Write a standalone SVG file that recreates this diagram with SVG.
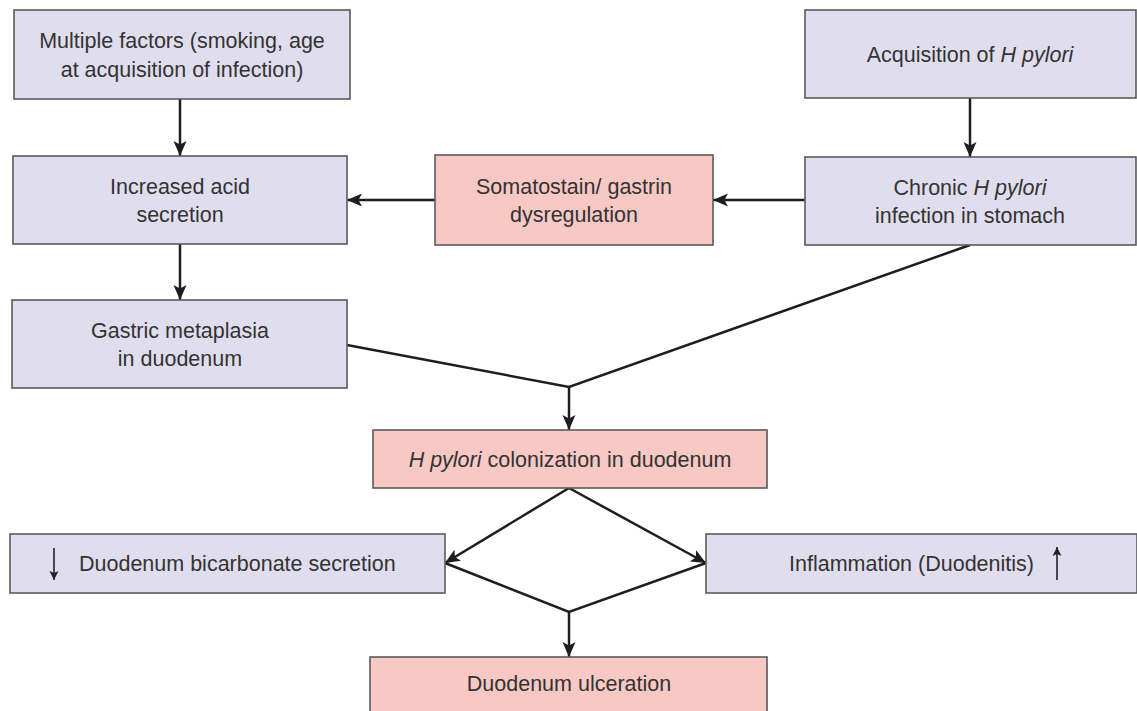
<svg xmlns="http://www.w3.org/2000/svg" width="1137" height="711" viewBox="0 0 1137 711">
<defs>
<style>
.b{fill:#e0deee;stroke:#5a5a5a;stroke-width:1.6}
.p{fill:#f8c8c4;stroke:#5a5a5a;stroke-width:1.6}
text{font-family:"Liberation Sans",Arial,sans-serif;font-size:21.5px;fill:#333}
.c{text-anchor:middle}
.ln{fill:none;stroke:#1e1e1e;stroke-width:2.5}
.sm{fill:none;stroke:#222;stroke-width:1.6}
</style>
<marker id="ah" markerWidth="16" markerHeight="14" refX="15" refY="7" orient="auto" markerUnits="userSpaceOnUse">
<path d="M0,0.5 L15,7 L0,13.5 L3.5,7 z" fill="#1e1e1e"/>
</marker>
<marker id="as" markerWidth="10" markerHeight="10" refX="9" refY="5" orient="auto" markerUnits="userSpaceOnUse">
<path d="M0,0.5 L9,5 L0,9.5 L2,5 z" fill="#222"/>
</marker>
</defs>
<rect width="1137" height="711" fill="#fff"/>
<g id="connectors">
<path class="ln" d="M180,99 V156" marker-end="url(#ah)"/>
<path class="ln" d="M970,98 V157" marker-end="url(#ah)"/>
<path class="ln" d="M805,200 H713" marker-end="url(#ah)"/>
<path class="ln" d="M435,200 H347" marker-end="url(#ah)"/>
<path class="ln" d="M180,244 V300" marker-end="url(#ah)"/>
<path class="ln" d="M347,345 L569,387 L970,245"/>
<path class="ln" d="M569,387 V430" marker-end="url(#ah)"/>
<path class="ln" d="M569,488 L445,563" marker-end="url(#ah)"/>
<path class="ln" d="M569,488 L706,563" marker-end="url(#ah)"/>
<path class="ln" d="M445,563 L569,612 L706,563"/>
<path class="ln" d="M569,612 V657" marker-end="url(#ah)"/>
</g>
<g id="n1"><rect class="b" x="14" y="10" width="336" height="89"/>
<text class="c" x="182" y="48">Multiple factors (smoking, age</text>
<text class="c" x="182" y="77">at acquisition of infection)</text></g>
<g id="n2"><rect class="b" x="805" y="10" width="331" height="88"/>
<text class="c" x="970" y="62">Acquisition of <tspan font-style="italic">H pylori</tspan></text></g>
<g id="n3"><rect class="b" x="13" y="156" width="334" height="88"/>
<text class="c" x="180" y="194">Increased acid</text>
<text class="c" x="180" y="222">secretion</text></g>
<g id="n4"><rect class="p" x="435" y="155" width="278" height="90"/>
<text class="c" x="574" y="194">Somatostain/ gastrin</text>
<text class="c" x="574" y="222">dysregulation</text></g>
<g id="n5"><rect class="b" x="805" y="157" width="331" height="88"/>
<text class="c" x="970" y="195">Chronic <tspan font-style="italic">H pylori</tspan></text>
<text class="c" x="970" y="223">infection in stomach</text></g>
<g id="n6"><rect class="b" x="12" y="300" width="335" height="88"/>
<text class="c" x="180" y="338">Gastric metaplasia</text>
<text class="c" x="180" y="366">in duodenum</text></g>
<g id="n7"><rect class="p" x="373" y="430" width="394" height="58"/>
<text class="c" x="570" y="467"><tspan font-style="italic">H pylori</tspan> colonization in duodenum</text></g>
<g id="n8"><rect class="b" x="10" y="534" width="435" height="59"/>
<path class="sm" d="M54,548 V580" marker-end="url(#as)"/>
<text x="79" y="571">Duodenum bicarbonate secretion</text></g>
<g id="n9"><rect class="b" x="706" y="534" width="431" height="59"/>
<text x="789" y="571">Inflammation (Duodenitis)</text>
<path class="sm" d="M1057,580 V547" marker-end="url(#as)"/></g>
<g id="n10"><rect class="p" x="370" y="657" width="397" height="60"/>
<text class="c" x="569" y="691">Duodenum ulceration</text></g>
</svg>
